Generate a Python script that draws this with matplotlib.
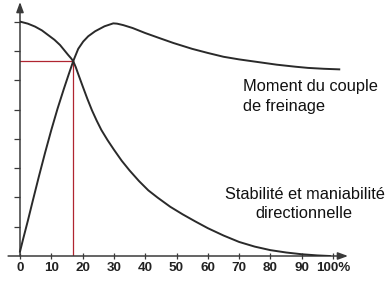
import matplotlib
matplotlib.use("Agg")
import matplotlib.pyplot as plt

plt.rcParams['font.family'] = ['Liberation Sans', 'DejaVu Sans']

# Data (x in %, y in tick units 0..8)
stab_x = [0, 2.5, 4.8, 7, 9.0, 11, 12.8, 15.4, 16.3, 17.0, 17.8, 18.5, 20, 21.5, 23, 24.5, 26, 28, 30,
          32.5, 35, 38, 41, 44, 48, 52, 56, 60, 65, 70, 75, 80, 85, 90, 95, 99]
stab_y = [8.0, 7.93, 7.83, 7.7, 7.54, 7.38, 7.2, 6.86, 6.75, 6.65, 6.45, 6.24, 5.8, 5.37, 4.97, 4.62, 4.3, 3.95, 3.63,
          3.25, 2.92, 2.56, 2.24, 1.99, 1.68, 1.42, 1.18, 0.95, 0.7, 0.48, 0.32, 0.2, 0.12, 0.06, 0.02, 0.0]

brake_x = [0, 1, 2.5, 4, 6, 8, 10, 12, 14, 15.5, 17.0, 18.6, 20.2, 21.8, 24, 27, 29.8, 31, 33, 36, 40, 45, 49,
           55, 60, 65, 70, 76, 82, 88, 92, 97, 102]
brake_y = [0.15, 0.58, 1.2, 1.85, 2.7, 3.52, 4.3, 5.03, 5.7, 6.18, 6.65, 7.07, 7.32, 7.5, 7.67, 7.84, 7.94, 7.93, 7.88,
           7.78, 7.61, 7.42, 7.27, 7.07, 6.93, 6.8, 6.71, 6.62, 6.53, 6.46, 6.42, 6.39, 6.37]

cross_x = 17.0
cross_y = 6.65

x_ticks = [0, 10, 20, 30, 40, 50, 60, 70, 80, 90, 100]
x_labels = ['0', '10', '20', '30', '40', '50', '60', '70', '80', '90', '100%']
y_ticks = [1, 2, 3, 4, 5, 6, 7, 8]

label_brake = ["Moment du couple", "de freinage"]
label_stab = ["Stabilité et maniabilité", "directionnelle"]

W, H = 388, 288
fig = plt.figure(figsize=(W / 100, H / 100), dpi=100)
fig.patch.set_facecolor('white')

ax_left, ax_right, ax_bottom, ax_top = 20, 348, 256, 2
ax = fig.add_axes([ax_left / W, (H - ax_bottom) / H, (ax_right - ax_left) / W, (ax_bottom - ax_top) / H])
xmax = (ax_right - ax_left) / 3.13
ymax = (ax_bottom - ax_top) / 29.3
ax.set_xlim(0, xmax)
ax.set_ylim(0, ymax)
for s in ax.spines.values():
    s.set_visible(False)
ax.patch.set_alpha(0)

axis_col = '#3a3a3a'
ax.annotate('', xy=(xmax, 0), xytext=(-3.8, 0), annotation_clip=False,
            arrowprops=dict(arrowstyle='-|>,head_length=0.6,head_width=0.22', color=axis_col, lw=1.1,
                            shrinkA=0, shrinkB=0))
ax.annotate('', xy=(0, ymax), xytext=(0, 0), annotation_clip=False,
            arrowprops=dict(arrowstyle='-|>,head_length=0.6,head_width=0.22', color=axis_col, lw=1.1,
                            shrinkA=0, shrinkB=0))

ax.set_xticks(x_ticks)
ax.set_xticklabels(x_labels, fontweight='bold', fontsize=9.7, color='#222222')
ax.set_yticks(y_ticks)
ax.set_yticklabels([])
ax.tick_params(axis='x', direction='inout', length=5, width=0.9, color=axis_col, pad=2)
ax.tick_params(axis='y', direction='out', length=4, width=0.9, color=axis_col)

red = '#b02530'
ax.plot([0, cross_x], [cross_y, cross_y], color=red, lw=0.9, zorder=2)
ax.plot([cross_x, cross_x], [0, cross_y], color=red, lw=0.9, zorder=2)

curve_col = '#2a2a2a'
ax.plot(stab_x, stab_y, color=curve_col, lw=1.4, zorder=3, solid_joinstyle='round')
ax.plot(brake_x, brake_y, color=curve_col, lw=1.4, zorder=3, solid_joinstyle='round', clip_on=False)

fs = 11.8
fig.text(243 / W, 1 - 91.5 / H, label_brake[0], fontsize=fs, ha='left', va='baseline', color='#111111')
fig.text(243 / W, 1 - 110.5 / H, label_brake[1], fontsize=fs, ha='left', va='baseline', color='#111111')
fig.text(305 / W, 1 - 199.3 / H, label_stab[0], fontsize=fs, ha='center', va='baseline', color='#111111')
fig.text(304 / W, 1 - 217.5 / H, label_stab[1], fontsize=fs, ha='center', va='baseline', color='#111111')

fig.savefig('out.png', dpi=100, facecolor='white')
